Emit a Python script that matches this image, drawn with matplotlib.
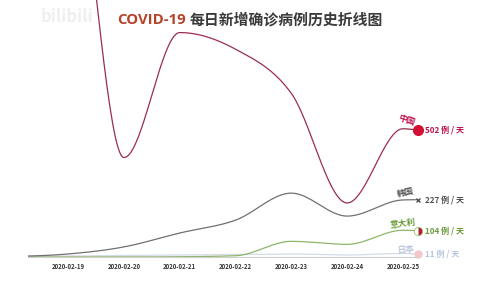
import numpy as np
import matplotlib
matplotlib.use("Agg")
import matplotlib.pyplot as plt

plt.rcParams["font.family"] = ["Noto Sans CJK SC", "DejaVu Sans"]

# ------------------------------------------------------------------------------
# Data (daily new confirmed cases)
# ------------------------------------------------------------------------------

dates = ["2020-02-18", "2020-02-19", "2020-02-20", "2020-02-21",
         "2020-02-22", "2020-02-23", "2020-02-24", "2020-02-25"]
now = 7.27                       # current animation frame (days after 02-18)

china = [1891, 1749, 394, 889, 823, 648, 214, 508, 502]
korea = [2, 12, 40, 95, 146, 253, 162, 226, 227]
italy = [0, 0, 0, 1, 5, 62, 50, 106, 104]
japan = [3, 4, 6, 8, 10, 12, 8, 14, 11]

names = ["中国", "韩国", "意大利", "日本"]
line_colors = ["#9b2d50", "#707070", "#8fb56a", "#d3dbe9"]
label_colors = ["#c0134f", "#555555", "#6b9b3a", "#b9c5dc"]


def monotone_curve(x, y, n=40):
    """Smooth monotone cubic (like d3.curveMonotoneX) for drawing."""
    x = np.asarray(x, float)
    y = np.asarray(y, float)
    h = np.diff(x)
    s = np.diff(y) / h
    m = np.zeros_like(y)
    for k in range(1, len(y) - 1):
        p = (s[k - 1] * h[k] + s[k] * h[k - 1]) / (h[k - 1] + h[k])
        m[k] = (np.sign(s[k - 1]) + np.sign(s[k])) * min(
            abs(s[k - 1]), abs(s[k]), 0.5 * abs(p))
    m[0] = (3 * s[0] - m[1]) / 2
    m[-1] = (3 * s[-1] - m[-2]) / 2
    xs, ys = [], []
    for k in range(len(h)):
        t = np.linspace(0, 1, n)
        h00 = 2 * t**3 - 3 * t**2 + 1
        h10 = t**3 - 2 * t**2 + t
        h01 = -2 * t**3 + 3 * t**2
        h11 = t**3 - t**2
        xs.append(x[k] + t * h[k])
        ys.append(h00 * y[k] + h10 * h[k] * m[k] + h01 * y[k + 1]
                  + h11 * h[k] * m[k + 1])
    return np.concatenate(xs), np.concatenate(ys)


# ------------------------------------------------------------------------------
# Figure
# ------------------------------------------------------------------------------

fig = plt.figure(figsize=(5, 2.81), dpi=100)
ax = fig.add_axes([28 / 500, 24 / 281, 390 / 500, 257 / 281])

xs = list(range(len(dates))) + [now]
series = [china, korea, italy, japan]

for vals, lc in zip(series[::-1], line_colors[::-1]):
    cx, cy = monotone_curve(xs, vals)
    ax.plot(cx, cy, color=lc, lw=0.9, solid_capstyle="round")

ax.set_xlim(now - 6.99, now)
ax.set_ylim(0, 1018)

ax.set_xticks(range(1, len(dates)))
ax.set_xticklabels(dates[1:])
ax.tick_params(axis="x", length=0, pad=4, labelsize=4.3, labelcolor="#333333")
ax.set_yticks([])
for side in ["top", "right", "left"]:
    ax.spines[side].set_visible(False)
ax.spines["bottom"].set_color("#cfcfcf")
ax.spines["bottom"].set_linewidth(0.8)
for lbl in ax.get_xticklabels():
    lbl.set_fontweight("bold")

# End labels
label_offsets = [(-8, 7), (-9, 5), (-11, 5), (-9, 3.5)]
label_rot = [-18, 12, 8, 5]
for vals, name, lc, off, rot in zip(series, names, label_colors,
                                    label_offsets, label_rot):
    ax.annotate(name, (now, vals[-1]), xytext=off, textcoords="offset points",
                ha="center", va="center", rotation=rot, fontsize=6.2,
                fontweight="bold", color=lc, annotation_clip=False)
    ax.annotate(f"{vals[-1]} 例 / 天", (now, vals[-1]), xytext=(5, 0),
                textcoords="offset points", ha="left", va="center",
                fontsize=5.8, fontweight="bold", color=lc,
                annotation_clip=False)

# flag-like end markers
ax.plot([now], [china[-1]], "o", ms=7, color="#d21034", clip_on=False)
ax.plot([now], [korea[-1]], "x", ms=3.5, mew=0.9, color="#444444",
        clip_on=False)
ax.plot([now], [italy[-1]], "o", ms=6, fillstyle="left",
        markerfacecolor="#ffffff", markerfacecoloralt="#c8102e",
        markeredgecolor="#9cc27a", markeredgewidth=0.6, clip_on=False)
ax.plot([now], [japan[-1]], "o", ms=5, color="#f4c7cf", clip_on=False)

# Title and watermark
title_y = 1 - 20 / 281
fig.text(0.372, title_y, "COVID-19", ha="right", va="center",
         fontsize=10.7, fontweight="bold", color="#b5442a",
         family=["Open Sans", "DejaVu Sans"])
fig.text(0.38, title_y, "每日新增确诊病例历史折线图", ha="left",
         va="center", fontsize=10.7, fontweight="bold", color="#3a3a3a")
fig.text(0.135, 1 - 17 / 281, "bilibili", ha="center", va="center",
         fontsize=12, fontweight="bold", color="#efefef", style="italic")

fig.savefig("out.png", dpi=100)
